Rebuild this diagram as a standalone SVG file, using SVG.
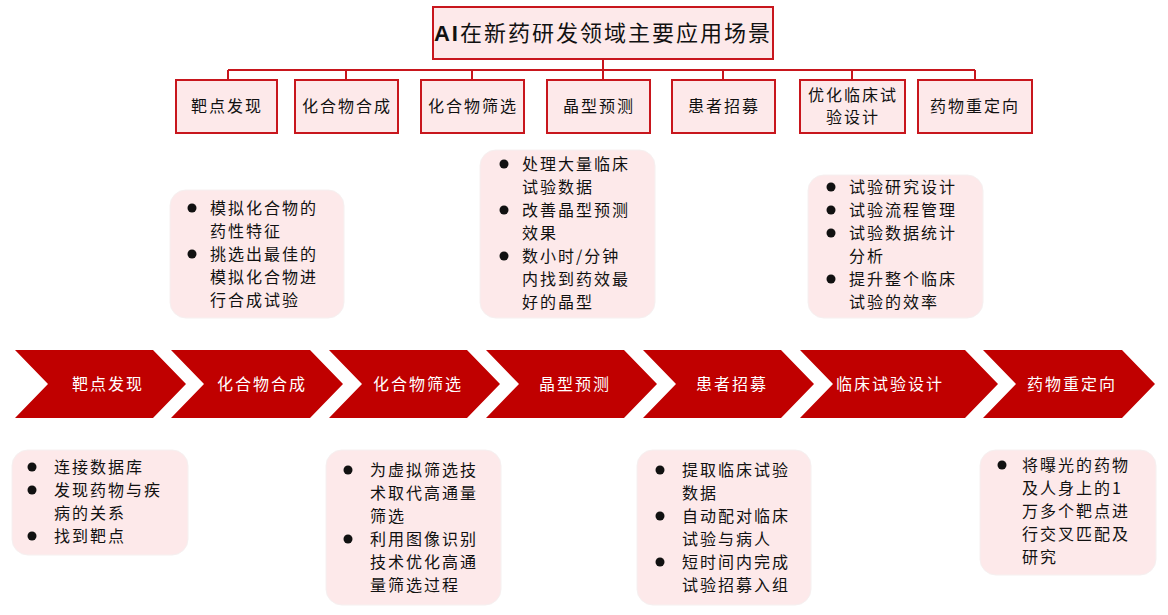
<svg xmlns="http://www.w3.org/2000/svg" width="1168" height="615" viewBox="0 0 1168 615">
<style>
.t{font-family:"Noto Sans CJK SC","Liberation Sans",sans-serif;font-size:16px;fill:#111;letter-spacing:2px}
.c{text-anchor:middle}
.w{fill:#fff;font-size:16px}
.box{fill:#fde9ea;stroke:#c8161d;stroke-width:2}
.ch{fill:#c00000}
.cl{fill:#fde9ea;stroke:#f6f0f0;stroke-width:1}
.ln{stroke:#c8161d;stroke-width:2;fill:none}
</style>
<g id="connectors">
<path class="ln" d="M603 59V70M228 70H975M228 70V80M346 70V80M472 70V80M603 70V80M723 70V80M852 70V80M975 70V80"/>
</g>
<g id="title"><rect class="box" x="433" y="7" width="340" height="52"/><text class="t c" x="603" y="41" style="font-size:22px;letter-spacing:2px"><tspan font-family="Liberation Sans" font-weight="bold">AI</tspan>在新药研发领域主要应用场景</text></g>
<g id="top1"><rect class="box" x="176" y="80" width="101" height="53"/><text class="t c" x="227" y="112">靶点发现</text></g>
<g id="top2"><rect class="box" x="295" y="80" width="103" height="53"/><text class="t c" x="347" y="112">化合物合成</text></g>
<g id="top3"><rect class="box" x="421" y="80" width="103" height="53"/><text class="t c" x="473" y="112">化合物筛选</text></g>
<g id="top4"><rect class="box" x="547" y="80" width="103" height="53"/><text class="t c" x="599" y="112">晶型预测</text></g>
<g id="top5"><rect class="box" x="672" y="80" width="103" height="53"/><text class="t c" x="724" y="112">患者招募</text></g>
<g id="top6"><rect class="box" x="800" y="80" width="105" height="53"/><text class="t c" x="853" y="101">优化临床试</text><text class="t c" x="853" y="123">验设计</text></g>
<g id="top7"><rect class="box" x="918" y="80" width="114" height="53"/><text class="t c" x="975" y="112">药物重定向</text></g>

<g id="ch1"><polygon class="ch" points="15,350 153,350 186,384 153,418 15,418 48,384"/><text class="t c w" x="108" y="390">靶点发现</text></g>
<g id="ch2"><polygon class="ch" points="171,350 310,350 343,384 310,418 171,418 204,384"/><text class="t c w" x="262" y="390">化合物合成</text></g>
<g id="ch3"><polygon class="ch" points="329,350 467,350 500,384 467,418 329,418 362,384"/><text class="t c w" x="418" y="390">化合物筛选</text></g>
<g id="ch4"><polygon class="ch" points="486,350 624,350 657,384 624,418 486,418 519,384"/><text class="t c w" x="575" y="390">晶型预测</text></g>
<g id="ch5"><polygon class="ch" points="643,350 781,350 814,384 781,418 643,418 676,384"/><text class="t c w" x="732" y="390">患者招募</text></g>
<g id="ch6"><polygon class="ch" points="800,350 965,350 998,384 965,418 800,418 833,384"/><text class="t c w" x="890" y="390">临床试验设计</text></g>
<g id="ch7"><polygon class="ch" points="983,350 1122,350 1155,384 1122,418 983,418 1016,384"/><text class="t c w" x="1072" y="390">药物重定向</text></g>

<g id="n1"><rect class="cl" x="170" y="190" width="174" height="128" rx="16"/>
<g class="t"><circle cx="192" cy="208" r="4.5"/><text x="210" y="214">模拟化合物的</text><text x="210" y="237">药性特征</text><circle cx="192" cy="254" r="4.5"/><text x="210" y="260">挑选出最佳的</text><text x="210" y="283">模拟化合物进</text><text x="210" y="306">行合成试验</text></g></g>
<g id="n2"><rect class="cl" x="480" y="150" width="175" height="168" rx="16"/>
<g class="t"><circle cx="504" cy="164" r="4.5"/><text x="522" y="170">处理大量临床</text><text x="522" y="193">试验数据</text><circle cx="504" cy="210" r="4.5"/><text x="522" y="216">改善晶型预测</text><text x="522" y="239">效果</text><circle cx="504" cy="256" r="4.5"/><text x="522" y="262">数小时/分钟</text><text x="522" y="285">内找到药效最</text><text x="522" y="308">好的晶型</text></g></g>
<g id="n3"><rect class="cl" x="808" y="175" width="175" height="143" rx="16"/>
<g class="t"><circle cx="831" cy="187" r="4.5"/><text x="849" y="193">试验研究设计</text><circle cx="831" cy="210" r="4.5"/><text x="849" y="216">试验流程管理</text><circle cx="831" cy="233" r="4.5"/><text x="849" y="239">试验数据统计</text><text x="849" y="262">分析</text><circle cx="831" cy="279" r="4.5"/><text x="849" y="285">提升整个临床</text><text x="849" y="308">试验的效率</text></g></g>
<g id="n4"><rect class="cl" x="12" y="450" width="176" height="105" rx="16"/>
<g class="t"><circle cx="32" cy="467" r="4.5"/><text x="54" y="473">连接数据库</text><circle cx="32" cy="490" r="4.5"/><text x="54" y="496">发现药物与疾</text><text x="54" y="519">病的关系</text><circle cx="32" cy="536" r="4.5"/><text x="54" y="542">找到靶点</text></g></g>
<g id="n5"><rect class="cl" x="326" y="450" width="175" height="155" rx="16"/>
<g class="t"><circle cx="348" cy="470" r="4.5"/><text x="370" y="476">为虚拟筛选技</text><text x="370" y="499">术取代高通量</text><text x="370" y="522">筛选</text><circle cx="348" cy="539" r="4.5"/><text x="370" y="545">利用图像识别</text><text x="370" y="568">技术优化高通</text><text x="370" y="591">量筛选过程</text></g></g>
<g id="n6"><rect class="cl" x="637" y="450" width="174" height="155" rx="16"/>
<g class="t"><circle cx="660" cy="470" r="4.5"/><text x="682" y="476">提取临床试验</text><text x="682" y="499">数据</text><circle cx="660" cy="516" r="4.5"/><text x="682" y="522">自动配对临床</text><text x="682" y="545">试验与病人</text><circle cx="660" cy="562" r="4.5"/><text x="682" y="568">短时间内完成</text><text x="682" y="591">试验招募入组</text></g></g>
<g id="n7"><rect class="cl" x="980" y="450" width="176" height="125" rx="16"/>
<g class="t"><circle cx="1002" cy="465" r="4.5"/><text x="1022" y="471">将曝光的药物</text><text x="1022" y="494">及人身上的1</text><text x="1022" y="517">万多个靶点进</text><text x="1022" y="540">行交叉匹配及</text><text x="1022" y="563">研究</text></g></g>
</svg>
